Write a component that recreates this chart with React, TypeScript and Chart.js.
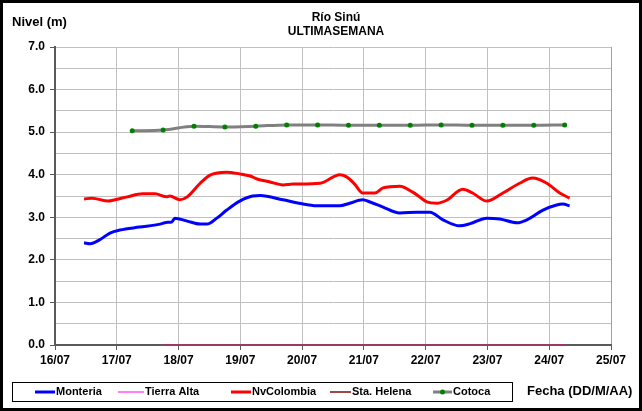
import React, { useEffect, useRef } from "react";
import { Chart, registerables } from "chart.js";

Chart.register(...registerables);

// Water level readings (day of July, level in metres)
const monteria: [number, number][] = [
  [16.47, 2.40], [16.57, 2.38], [16.72, 2.47], [16.89, 2.63], [17.05, 2.70],
  [17.37, 2.77], [17.70, 2.84], [17.80, 2.88], [17.89, 2.89], [17.94, 2.98],
  [18.14, 2.91], [18.35, 2.84], [18.46, 2.84], [18.62, 2.98], [18.78, 3.17],
  [18.99, 3.38], [19.20, 3.50], [19.32, 3.51], [19.69, 3.41], [19.95, 3.33],
  [20.24, 3.27], [20.61, 3.27], [20.77, 3.33], [20.98, 3.41], [21.10, 3.36],
  [21.31, 3.24], [21.58, 3.10], [21.86, 3.12], [22.07, 3.12], [22.28, 2.94],
  [22.55, 2.80], [22.72, 2.85], [22.99, 2.98], [23.20, 2.96], [23.48, 2.87],
  [23.64, 2.94], [23.90, 3.17], [24.12, 3.29], [24.22, 3.31], [24.33, 3.27],
];

const tierraAlta: [number, number][] = [
  [17.75, 0], [18.25, 0], [18.75, 0], [19.25, 0], [19.75, 0], [20.25, 0], [20.75, 0],
  [21.25, 0], [21.75, 0], [22.25, 0], [22.75, 0], [23.25, 0], [23.75, 0], [24.25, 0],
];

const nvColombia: [number, number][] = [
  [16.47, 3.43], [16.60, 3.45], [16.86, 3.38], [16.97, 3.41], [17.17, 3.48],
  [17.42, 3.55], [17.62, 3.55], [17.81, 3.48], [17.86, 3.50], [18.02, 3.41],
  [18.14, 3.48], [18.35, 3.80], [18.51, 3.99], [18.78, 4.06], [18.99, 4.02],
  [19.16, 3.97], [19.27, 3.90], [19.48, 3.83], [19.69, 3.76], [19.85, 3.78],
  [20.29, 3.80], [20.61, 4.00], [20.72, 3.95], [20.85, 3.78], [20.98, 3.57],
  [21.18, 3.57], [21.31, 3.69], [21.58, 3.73], [21.79, 3.59], [21.91, 3.47],
  [22.02, 3.36], [22.18, 3.33], [22.34, 3.40], [22.60, 3.66], [22.76, 3.57],
  [22.99, 3.38], [23.25, 3.57], [23.52, 3.80], [23.73, 3.92], [23.96, 3.80],
  [24.17, 3.57], [24.33, 3.45],
];

const staHelena: [number, number][] = [
  [17.75, 0], [18.25, 0], [18.75, 0], [19.25, 0], [19.75, 0], [20.25, 0], [20.75, 0],
  [21.25, 0], [21.75, 0], [22.25, 0], [22.75, 0], [23.25, 0], [23.75, 0], [24.25, 0],
];

const cotoca: [number, number][] = [
  [17.25, 5.03], [17.75, 5.05], [18.25, 5.14], [18.75, 5.12], [19.25, 5.14],
  [19.75, 5.17], [20.25, 5.17], [20.75, 5.16], [21.25, 5.16], [21.75, 5.16],
  [22.25, 5.17], [22.75, 5.16], [23.25, 5.16], [23.75, 5.16], [24.25, 5.17],
];

const titleLines = ["Río Sinú", "ULTIMASEMANA"];
const yAxisTitle = "Nivel (m)";
const xAxisTitle = "Fecha (DD/M/AA)";
const monthLabel = "07";

const FONT = 'Arial, "Liberation Sans", sans-serif';

const toPoints = (rows: [number, number][]) => rows.map(([x, y]) => ({ x, y }));

// Legend sample positions: [line start, line end]
const legendSlots = [
  [35, 55],
  [118, 144],
  [231, 251],
  [330, 351],
  [433, 452],
];

const decorPlugin = {
  id: "decor",
  afterDraw(chart: any) {
    const ctx: CanvasRenderingContext2D = chart.ctx;
    const W = chart.width;
    const H = chart.height;
    ctx.save();

    // outer frame
    ctx.strokeStyle = "#000";
    ctx.lineWidth = 3;
    ctx.strokeRect(1.5, 1.5, W - 3, H - 3);

    // titles
    ctx.fillStyle = "#000";
    ctx.textBaseline = "middle";
    ctx.textAlign = "center";
    ctx.font = `bold 12px ${FONT}`;
    ctx.fillText(titleLines[0], 336, 18);
    ctx.fillText(titleLines[1], 336, 32);
    ctx.textAlign = "left";
    ctx.font = `bold 13px ${FONT}`;
    ctx.fillText(yAxisTitle, 12, 22);
    ctx.fillText(xAxisTitle, 527, 391);

    // legend box
    ctx.lineWidth = 1;
    ctx.strokeStyle = "#000";
    ctx.strokeRect(12.5, 382.5, 500, 19);

    const ly = 392;
    ctx.font = `bold 11px ${FONT}`;
    chart.data.datasets.forEach((ds: any, i: number) => {
      const [x0, x1] = legendSlots[i];
      ctx.strokeStyle = ds.legendColor || ds.borderColor;
      ctx.lineWidth = ds.borderWidth;
      ctx.beginPath();
      ctx.moveTo(x0, ly);
      ctx.lineTo(x1, ly);
      ctx.stroke();
      if (ds.pointRadius > 0) {
        ctx.fillStyle = ds.pointBackgroundColor;
        ctx.beginPath();
        ctx.arc((x0 + x1) / 2, ly, 2.5, 0, Math.PI * 2);
        ctx.fill();
      }
      ctx.fillStyle = "#000";
      ctx.fillText(ds.label, x1 + 1, ly);
    });

    ctx.restore();
  },
};

export default function App() {
  const canvasRef = useRef<HTMLCanvasElement | null>(null);

  useEffect(() => {
    if (!canvasRef.current) return;
    const chart = new Chart(canvasRef.current, {
      type: "line",
      data: {
        datasets: [
          {
            label: "Monteria",
            data: toPoints(monteria),
            borderColor: "#0000ff",
            backgroundColor: "#0000ff",
            borderWidth: 3,
            pointRadius: 0,
            cubicInterpolationMode: "monotone",
            order: 1,
          },
          {
            label: "Tierra Alta",
            data: toPoints(tierraAlta),
            borderColor: "#ff00ff",
            backgroundColor: "#ff00ff",
            borderWidth: 1,
            pointRadius: 0,
            clip: false,
            order: 3,
          },
          {
            label: "NvColombia",
            data: toPoints(nvColombia),
            borderColor: "#ff0000",
            backgroundColor: "#ff0000",
            borderWidth: 3,
            pointRadius: 0,
            cubicInterpolationMode: "monotone",
            order: 1,
          },
          {
            label: "Sta. Helena",
            data: toPoints(staHelena),
            borderColor: "rgba(150, 60, 90, 0.85)",
            legendColor: "#a04848",
            backgroundColor: "#a04848",
            borderWidth: 2,
            pointRadius: 0,
            clip: false,
            order: 2,
          },
          {
            label: "Cotoca",
            data: toPoints(cotoca),
            borderColor: "#808080",
            backgroundColor: "#808080",
            borderWidth: 3,
            pointRadius: 2.5,
            pointBackgroundColor: "#008000",
            pointBorderColor: "#008000",
            pointBorderWidth: 0,
            cubicInterpolationMode: "monotone",
            order: 1,
          },
        ],
      },
      options: {
        animation: false,
        responsive: false,
        devicePixelRatio: 1,
        layout: { padding: { left: 0, top: 47, right: 31, bottom: 0 } },
        plugins: {
          legend: { display: false },
          title: { display: false },
          tooltip: { enabled: false },
        },
        scales: {
          x: {
            type: "linear",
            min: 16,
            max: 25,
            afterFit: (scale: any) => {
              scale.height = 66;
            },
            border: { color: "#5a5a5a", width: 2 },
            grid: {
              color: (c: any) => (c.tick?.value === 25 ? "#a0a0a0" : "#c0c0c0"),
              lineWidth: 1,
              tickLength: 5,
              tickColor: "#5a5a5a",
            },
            ticks: {
              stepSize: 1,
              autoSkip: false,
              maxRotation: 0,
              padding: 3,
              color: "#000",
              font: { family: FONT, size: 12, weight: "bold" },
              callback: (v: any) => `${String(v).padStart(2, "0")}/${monthLabel}`,
            },
          },
          y: {
            min: 0,
            max: 7,
            afterFit: (scale: any) => {
              scale.width = 55;
            },
            border: { color: "#5a5a5a", width: 2 },
            grid: {
              color: "#c0c0c0",
              lineWidth: 1,
              tickLength: 5,
              tickColor: (c: any) =>
                Number.isInteger(c.tick?.value) ? "#5a5a5a" : "rgba(0,0,0,0)",
            },
            ticks: {
              stepSize: 0.5,
              padding: 5,
              color: "#000",
              font: { family: FONT, size: 12, weight: "bold" },
              callback: (v: any) => (Number.isInteger(v) ? Number(v).toFixed(1) : ""),
            },
          },
        },
      } as any,
      plugins: [decorPlugin],
    });
    return () => chart.destroy();
  }, []);

  return (
    <div style={{ position: "absolute", left: 0, top: 0, width: 642, height: 411, background: "#fff" }}>
      <canvas ref={canvasRef} width={642} height={411} />
    </div>
  );
}
